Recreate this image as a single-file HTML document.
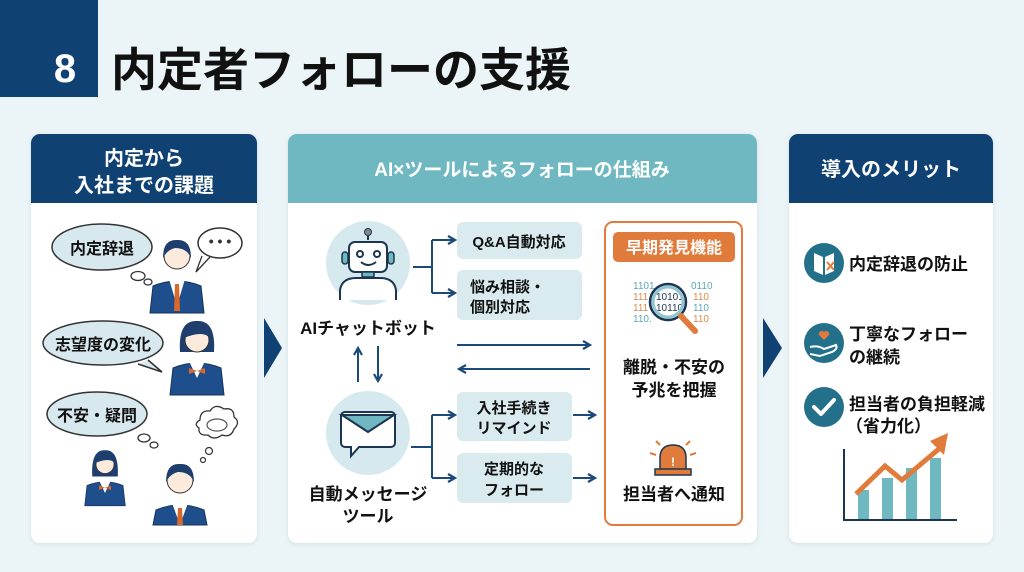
<!DOCTYPE html>
<html><head><meta charset="utf-8"><style>
html,body{margin:0;padding:0;width:1024px;height:572px;overflow:hidden;background:#ebf4f6;}
svg{display:block}
text{font-family:"Liberation Sans","Noto Sans CJK JP",sans-serif;font-weight:bold;}
</style></head><body>
<svg width="1024" height="572" viewBox="0 0 1024 572" xmlns="http://www.w3.org/2000/svg">
<defs>
<marker id="ah" markerWidth="10" markerHeight="10" refX="8" refY="5" orient="auto" markerUnits="userSpaceOnUse">
<path d="M1,1 L8,5 L1,9" fill="none" stroke="#1b4a7a" stroke-width="2.2"/></marker>
<filter id="sh" x="-5%" y="-5%" width="110%" height="110%"><feDropShadow dx="0" dy="1" stdDeviation="2" flood-color="#9bb" flood-opacity="0.35"/></filter>
</defs>
<rect width="1024" height="572" fill="#ebf4f6"/>
<!-- header -->
<rect x="0" y="0" width="98" height="97" fill="#0f4273"/>
<text x="65" y="82" fill="#fff" font-size="40" text-anchor="middle">8</text>
<text x="111" y="86" fill="#111" font-size="46">内定者フォローの支援</text>

<!-- left panel -->
<g filter="url(#sh)"><rect x="31" y="134" width="226" height="409" rx="9" fill="#fff"/></g>
<path d="M31,143 a9,9 0 0 1 9,-9 h208 a9,9 0 0 1 9,9 V203 H31 Z" fill="#0f4273"/>
<text x="144" y="165" fill="#fff" font-size="20" text-anchor="middle">内定から</text>
<text x="144" y="192" fill="#fff" font-size="20" text-anchor="middle">入社までの課題</text>

<!-- bubbles -->
<ellipse cx="102" cy="247" rx="50" ry="23" fill="#d7e8ee" stroke="#333" stroke-width="1.5"/>
<text x="102" y="254" font-size="16" text-anchor="middle" fill="#111">内定辞退</text>
<ellipse cx="138" cy="276" rx="7" ry="4.5" fill="#fff" stroke="#333" stroke-width="1.3"/>
<ellipse cx="148" cy="282" rx="4" ry="3" fill="#fff" stroke="#333" stroke-width="1.3"/>
<path d="M202,256 L196,272 L210,257" fill="#fff" stroke="#333" stroke-width="1.3"/>
<ellipse cx="220" cy="243" rx="22" ry="15" fill="#fff" stroke="#333" stroke-width="1.5"/>
<text x="220" y="246" font-size="14" text-anchor="middle" fill="#333">• • •</text>

<path d="M148,360 L162,372 L138,364" fill="#d7e8ee" stroke="#333" stroke-width="1.5"/>
<ellipse cx="103" cy="343" rx="60" ry="22" fill="#d7e8ee" stroke="#333" stroke-width="1.5"/>
<text x="103" y="350" font-size="16" text-anchor="middle" fill="#111">志望度の変化</text>

<ellipse cx="97" cy="414" rx="50" ry="22" fill="#d7e8ee" stroke="#333" stroke-width="1.5"/>
<text x="97" y="421" font-size="16" text-anchor="middle" fill="#111">不安・疑問</text>
<ellipse cx="144" cy="438" rx="6" ry="4" fill="#fff" stroke="#333" stroke-width="1.3"/>
<ellipse cx="154" cy="445" rx="4" ry="3" fill="#fff" stroke="#333" stroke-width="1.3"/>
<path d="M200,420 q0,-10 10,-9 q5,-8 14,-2 q10,-2 10,8 q7,5 0,12 q-3,9 -12,6 q-8,6 -14,0 q-10,1 -9,-7 q-6,-4 1,-8Z" fill="#fff" stroke="#333" stroke-width="1.3"/>
<ellipse cx="217" cy="425" rx="10" ry="6" fill="none" stroke="#555" stroke-width="1.2"/>
<circle cx="209" cy="451" r="3.5" fill="#fff" stroke="#333" stroke-width="1.2"/>
<circle cx="203" cy="460" r="2.5" fill="#fff" stroke="#333" stroke-width="1.2"/>

<!-- persons -->
<g transform="translate(177,256)">
<path d="M-27,57 L-24,30 Q0,20 24,30 L27,57 Z" fill="#1f4e8c" stroke="#16325a"/>
<path d="M-8,23 L8,23 L0,50 Z" fill="#fff"/><path d="M-2,28 L2,28 L3,55 L-3,55 Z" fill="#d9692a"/>
<circle r="13" fill="#fcebdd" stroke="#333"/><path d="M-14,2 Q-14,-17 0,-16 Q14,-17 14,2 Q10,-8 -2,-8 Q-10,-6 -14,2Z" fill="#1e3f6e"/>
</g>
<g transform="translate(197,338)">
<path d="M-27,57 L-24,30 Q0,20 24,30 L27,57 Z" fill="#1f4e8c" stroke="#16325a"/>
<path d="M-8,23 L8,23 L0,40 Z" fill="#fff"/><path d="M-8,30 L8,36 L8,30 L-8,36Z" fill="#d9692a"/>
<path d="M-17,14 Q-19,-18 0,-17 Q19,-18 17,14 Z" fill="#1e3f6e"/>
<circle r="12" cy="2" fill="#fcebdd" stroke="#333"/><path d="M-13,0 Q-10,-14 4,-11 Q12,-10 13,0 Q6,-8 -13,0Z" fill="#1e3f6e"/>
</g>
<g transform="translate(105,463) scale(0.75)">
<path d="M-27,57 L-24,30 Q0,20 24,30 L27,57 Z" fill="#1f4e8c" stroke="#16325a"/>
<path d="M-8,23 L8,23 L0,40 Z" fill="#fff"/><path d="M-8,30 L8,36 L8,30 L-8,36Z" fill="#d9692a"/>
<path d="M-17,18 Q-19,-18 0,-17 Q19,-18 17,18 Z" fill="#1e3f6e"/>
<circle r="12" cy="2" fill="#fcebdd" stroke="#333"/><path d="M-13,0 Q-10,-14 4,-11 Q12,-10 13,0 Q6,-8 -13,0Z" fill="#1e3f6e"/>
</g>
<g transform="translate(180,480)">
<path d="M-27,45 L-24,30 Q0,20 24,30 L27,45 Z" fill="#1f4e8c" stroke="#16325a"/>
<path d="M-8,23 L8,23 L0,45 Z" fill="#fff"/><path d="M-2,28 L2,28 L3,45 L-3,45 Z" fill="#d9692a"/>
<circle r="13" fill="#fcebdd" stroke="#333"/><path d="M-14,2 Q-14,-17 0,-16 Q14,-17 14,2 Q10,-8 -2,-8 Q-10,-6 -14,2Z" fill="#1e3f6e"/>
</g>

<!-- chevrons -->
<path d="M264,318 L282,348 L264,378 Z" fill="#0f4273"/>
<path d="M763,318 L782,348 L763,378 Z" fill="#0f4273"/>

<!-- middle panel -->
<g filter="url(#sh)"><rect x="288" y="134" width="469" height="409" rx="9" fill="#fff"/></g>
<path d="M288,143 a9,9 0 0 1 9,-9 h451 a9,9 0 0 1 9,9 V203 H288 Z" fill="#6fb8c1"/>
<text x="522" y="176" fill="#fff" font-size="19" text-anchor="middle">AI×ツールによるフォローの仕組み</text>

<!-- robot -->
<circle cx="368" cy="263" r="42" fill="#d6e9ee"/>
<line x1="368" y1="240" x2="368" y2="233" stroke="#1c3550" stroke-width="2"/><circle cx="368" cy="232" r="3.5" fill="#888" stroke="#1c3550"/>
<rect x="349" y="242" width="38" height="30" rx="6" fill="#fff" stroke="#1c3550" stroke-width="2"/>
<rect x="342" y="252" width="6" height="12" rx="3" fill="#6fb8c1" stroke="#1c3550" stroke-width="1.5"/>
<rect x="388" y="252" width="6" height="12" rx="3" fill="#6fb8c1" stroke="#1c3550" stroke-width="1.5"/>
<circle cx="360" cy="254" r="3" fill="none" stroke="#1c3550" stroke-width="2"/><circle cx="377" cy="254" r="3" fill="none" stroke="#1c3550" stroke-width="2"/>
<path d="M361,262 Q368,268 376,262" fill="none" stroke="#1c3550" stroke-width="2"/>
<rect x="362" y="272" width="12" height="5" fill="#6fb8c1" stroke="#1c3550" stroke-width="1.5"/>
<path d="M340,300 L340,290 Q342,278 356,278 L380,278 Q394,278 396,290 L396,300" fill="#fff" stroke="#1c3550" stroke-width="2"/>
<text x="368" y="334" font-size="17" text-anchor="middle" fill="#111">AIチャットボット</text>
<!-- vertical arrows -->
<line x1="358" y1="382" x2="358" y2="348" stroke="#1b4a7a" stroke-width="2" marker-end="url(#ah)"/>
<line x1="378" y1="346" x2="378" y2="381" stroke="#1b4a7a" stroke-width="2" marker-end="url(#ah)"/>
<!-- envelope -->
<circle cx="368" cy="433" r="42" fill="#d6e9ee"/>
<path d="M345,412 h46 a4,4 0 0 1 4,4 v27 a4,4 0 0 1 -4,4 h-32 l-8,9 v-9 h-6 a4,4 0 0 1 -4,-4 v-27 a4,4 0 0 1 4,-4Z" fill="#fff" stroke="#1c3550" stroke-width="2"/>
<path d="M342,415 L368,432 L394,415 Z" fill="#6fb8c1" stroke="#1c3550" stroke-width="2"/>
<text x="368" y="500" font-size="17" text-anchor="middle" fill="#111">自動メッセージ</text>
<text x="368" y="522" font-size="17" text-anchor="middle" fill="#111">ツール</text>

<!-- branch connectors -->
<g stroke="#1b4a7a" stroke-width="2" fill="none">
<path d="M413,267 H432 M432,240 V293"/>
<line x1="432" y1="240" x2="455" y2="240" marker-end="url(#ah)"/>
<line x1="432" y1="293" x2="455" y2="293" marker-end="url(#ah)"/>
<path d="M411,447 H432 M432,415 V478"/>
<line x1="432" y1="415" x2="455" y2="415" marker-end="url(#ah)"/>
<line x1="432" y1="478" x2="455" y2="478" marker-end="url(#ah)"/>
<line x1="457" y1="345" x2="590" y2="345" marker-end="url(#ah)"/>
<line x1="590" y1="369" x2="459" y2="369" marker-end="url(#ah)"/>
<line x1="573" y1="415" x2="595" y2="415" marker-end="url(#ah)"/>
<line x1="573" y1="478" x2="595" y2="478" marker-end="url(#ah)"/>
<line x1="673" y1="407" x2="673" y2="432" marker-end="url(#ah)"/>
</g>
<rect x="457" y="222" width="125" height="37" rx="6" fill="#d9ebee"/>
<text x="519" y="247" font-size="15" text-anchor="middle" fill="#111">Q&amp;A自動対応</text>
<rect x="457" y="270" width="125" height="50" rx="6" fill="#d9ebee"/>
<text x="470" y="292" font-size="15" fill="#111">悩み相談・</text>
<text x="470" y="312" font-size="15" fill="#111">個別対応</text>
<rect x="457" y="392" width="115" height="49" rx="6" fill="#d9ebee"/>
<text x="514" y="413" font-size="15" text-anchor="middle" fill="#111">入社手続き</text>
<text x="514" y="433" font-size="15" text-anchor="middle" fill="#111">リマインド</text>
<rect x="457" y="453" width="115" height="50" rx="6" fill="#d9ebee"/>
<text x="514" y="474" font-size="15" text-anchor="middle" fill="#111">定期的な</text>
<text x="514" y="495" font-size="15" text-anchor="middle" fill="#111">フォロー</text>

<!-- orange box -->
<rect x="605" y="222" width="137" height="303" rx="8" fill="#fff" stroke="#e07b3c" stroke-width="2"/>
<rect x="613" y="232" width="122" height="30" rx="5" fill="#e07b3c"/>
<text x="674" y="253" font-size="16" text-anchor="middle" fill="#fff">早期発見機能</text>
<g font-size="10">
<text x="633" y="289" fill="#5aa8b8" style="font-weight:normal">1101</text><text x="691" y="289" fill="#5aa8b8" style="font-weight:normal">0110</text>
<text x="633" y="300" fill="#d98a4a" style="font-weight:normal">111</text><text x="693" y="300" fill="#d98a4a" style="font-weight:normal">110</text>
<text x="633" y="311" fill="#d98a4a" style="font-weight:normal">111</text><text x="693" y="311" fill="#5aa8b8" style="font-weight:normal">110</text>
<text x="633" y="322" fill="#5aa8b8" style="font-weight:normal">110.</text><text x="693" y="322" fill="#d98a4a" style="font-weight:normal">110</text>
<text x="656" y="300" fill="#1c3550" style="font-weight:normal">10101</text><text x="656" y="311" fill="#1c3550" style="font-weight:normal">10110</text>
</g>
<circle cx="668" cy="302" r="18" fill="none" stroke="#1c3550" stroke-width="2.5"/>
<circle cx="668" cy="302" r="15" fill="none" stroke="#8fc6d2" stroke-width="3"/>
<line x1="681" y1="316" x2="695" y2="331" stroke="#e07b3c" stroke-width="6" stroke-linecap="round"/>
<text x="674" y="373" font-size="17" text-anchor="middle" fill="#111">離脱・不安の</text>
<text x="674" y="396" font-size="17" text-anchor="middle" fill="#111">予兆を把握</text>
<!-- siren -->
<path d="M660,470 L660,458 Q660,445 673,445 Q686,445 686,458 L686,470 Z" fill="#e07b3c" stroke="#1c3550" stroke-width="1.5"/>
<rect x="655" y="469" width="36" height="6" fill="#e07b3c" stroke="#1c3550" stroke-width="1.5"/>
<text x="673" y="466" font-size="12" text-anchor="middle" fill="#fff">!</text>
<g stroke="#e07b3c" stroke-width="2"><line x1="650" y1="453" x2="656" y2="455"/><line x1="696" y1="453" x2="690" y2="455"/><line x1="656" y1="441" x2="660" y2="445"/><line x1="690" y1="441" x2="686" y2="445"/></g>
<text x="674" y="500" font-size="17" text-anchor="middle" fill="#111">担当者へ通知</text>

<!-- right panel -->
<g filter="url(#sh)"><rect x="789" y="134" width="204" height="409" rx="9" fill="#fff"/></g>
<path d="M789,143 a9,9 0 0 1 9,-9 h186 a9,9 0 0 1 9,9 V203 H789 Z" fill="#0f4273"/>
<text x="891" y="176" fill="#fff" font-size="20" text-anchor="middle">導入のメリット</text>
<circle cx="824" cy="263" r="20" fill="#23708a"/>
<path d="M814,253 L823,257 L823,275 L814,271Z M825,257 L834,253 L834,271 L825,275Z" fill="#fff"/>
<path d="M827,262 L834,270 M834,262 L827,270" stroke="#e07b3c" stroke-width="2"/>
<text x="849" y="270" font-size="17" fill="#111">内定辞退の防止</text>
<circle cx="824" cy="343" r="20" fill="#23708a"/>
<path d="M824,340 l-5,-5 a3,3 0 0 1 5,-3 a3,3 0 0 1 5,3Z" fill="#e07b3c"/>
<path d="M810,347 Q818,345 824,349 L836,345 Q838,349 832,352 L820,356 L810,354" fill="none" stroke="#fff" stroke-width="2"/>
<text x="849" y="340" font-size="17" fill="#111">丁寧なフォロー</text>
<text x="849" y="363" font-size="17" fill="#111">の継続</text>
<circle cx="824" cy="407" r="20" fill="#23708a"/>
<path d="M814,407 L821,414 L834,400" fill="none" stroke="#fff" stroke-width="4" stroke-linecap="round" stroke-linejoin="round"/>
<text x="849" y="410" font-size="17" fill="#111">担当者の負担軽減</text>
<text x="846" y="432" font-size="17" fill="#111">（省力化）</text>
<!-- chart -->
<g fill="#6fb8c1">
<rect x="858" y="490" width="11" height="30"/><rect x="882" y="478" width="11" height="42"/>
<rect x="906" y="468" width="11" height="52"/><rect x="930" y="458" width="11" height="62"/>
</g>
<path d="M844,449 V520 H957" fill="none" stroke="#1c3550" stroke-width="2"/>
<path d="M856,494 L885,466 L902,480 L940,448" fill="none" stroke="#e07b3c" stroke-width="5"/>
<path d="M948,433 L930,441 L944,455Z" fill="#e07b3c"/>
</svg>
</body></html>
